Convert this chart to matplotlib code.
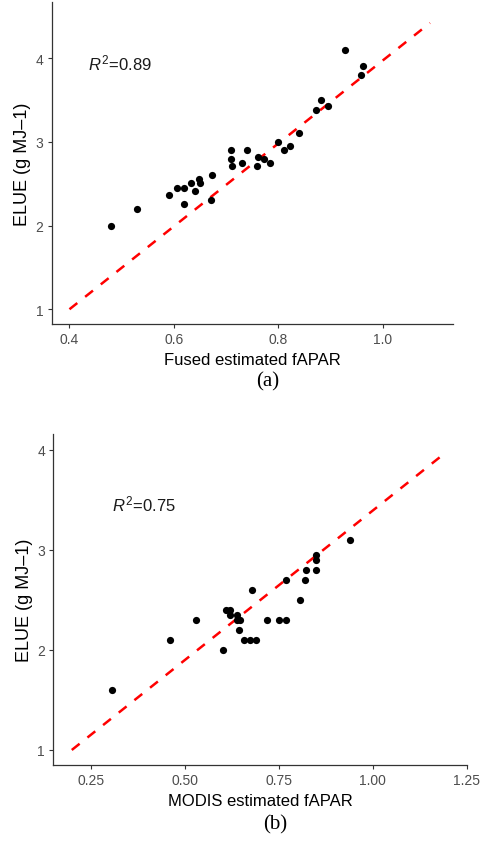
import matplotlib
matplotlib.use('Agg')
import matplotlib.pyplot as plt

plt.rcParams['font.family'] = ['Liberation Sans', 'DejaVu Sans']
plt.rcParams['mathtext.fontset'] = 'custom'
plt.rcParams['mathtext.rm'] = 'Liberation Sans'
plt.rcParams['mathtext.it'] = 'Liberation Sans:italic'

# Panel (a): fused fAPAR vs ELUE
fused_x = [0.48, 0.53, 0.59, 0.605, 0.62, 0.62, 0.632, 0.64, 0.647, 0.649,
           0.67, 0.672, 0.71, 0.71, 0.712, 0.73, 0.74, 0.758, 0.76, 0.772,
           0.784, 0.80, 0.81, 0.823, 0.84, 0.871, 0.882, 0.895, 0.928, 0.958, 0.961]
fused_y = [2.00, 2.20, 2.36, 2.45, 2.26, 2.45, 2.51, 2.41, 2.555, 2.51,
           2.30, 2.60, 2.90, 2.80, 2.71, 2.75, 2.90, 2.71, 2.82, 2.80,
           2.75, 3.00, 2.90, 2.95, 3.10, 3.38, 3.50, 3.43, 4.10, 3.80, 3.90]
fused_line_x = [0.40, 1.09]
fused_line_y = [1.00, 4.42]
fused_r2 = '0.89'

# Panel (b): MODIS fAPAR vs ELUE
modis_x = [0.308, 0.461, 0.529, 0.601, 0.61, 0.62, 0.62, 0.638, 0.638, 0.646,
           0.645, 0.657, 0.673, 0.689, 0.679, 0.72, 0.751, 0.769, 0.769, 0.807,
           0.819, 0.822, 0.85, 0.85, 0.85, 0.94]
modis_y = [1.60, 2.10, 2.30, 2.00, 2.40, 2.40, 2.35, 2.35, 2.30, 2.30,
           2.20, 2.10, 2.10, 2.10, 2.60, 2.30, 2.30, 2.30, 2.70, 2.50,
           2.70, 2.80, 2.80, 2.90, 2.95, 3.10]
modis_line_x = [0.20, 1.18]
modis_line_y = [1.00, 3.93]
modis_r2 = '0.75'

fig = plt.figure(figsize=(4.85, 8.45), dpi=100)
ax1 = fig.add_axes([0.1066, 0.6154, 0.8274, 0.381])
ax2 = fig.add_axes([0.110, 0.0935, 0.8524, 0.3917])


def style(ax):
    for s in ['top', 'right']:
        ax.spines[s].set_visible(False)
    for s in ['left', 'bottom']:
        ax.spines[s].set_color('#333333')
        ax.spines[s].set_linewidth(0.9)
    ax.tick_params(length=3, width=0.8, color='#333333', labelcolor='#4D4D4D',
                   labelsize=10, pad=3)


def panel(ax, x, y, lx, ly, r2, r2pos, xlabel):
    ax.plot(lx, ly, color='red', lw=1.8, ls=(0, (4, 4)))
    ax.scatter(x, y, s=27, color='black', zorder=3, linewidths=0)
    ax.text(r2pos[0], r2pos[1], r'$R^2\!=\!$' + r2, fontsize=12, va='center',
            ha='left', color='#1a1a1a')
    ax.set_xlabel(xlabel, fontsize=12, labelpad=4)
    ax.set_ylabel('ELUE (g MJ\u20131)', fontsize=13, labelpad=3)
    style(ax)


panel(ax1, fused_x, fused_y, fused_line_x, fused_line_y, fused_r2,
      (0.435, 3.95), 'Fused estimated fAPAR')
ax1.set_xlim(0.366, 1.134)
ax1.set_ylim(0.824, 4.67)
ax1.set_xticks([0.4, 0.6, 0.8, 1.0])
ax1.set_xticklabels(['0.4', '0.6', '0.8', '1.0'])
ax1.set_yticks([1, 2, 3, 4])

panel(ax2, modis_x, modis_y, modis_line_x, modis_line_y, modis_r2,
      (0.306, 3.46), 'MODIS estimated fAPAR')
ax2.set_xlim(0.151, 1.247)
ax2.set_ylim(0.85, 4.157)
ax2.set_xticks([0.25, 0.5, 0.75, 1.0, 1.25])
ax2.set_xticklabels(['0.25', '0.50', '0.75', '1.00', '1.25'])
ax2.set_yticks([1, 2, 3, 4])

fig.text(268 / 485, 1 - 381.7 / 845, '(a)', family='Liberation Serif',
         fontsize=15, ha='center', va='center')
fig.text(275 / 485, 1 - 825 / 845, '(b)', family='Liberation Serif',
         fontsize=15, ha='center', va='center')

fig.savefig('out.png', dpi=100)
